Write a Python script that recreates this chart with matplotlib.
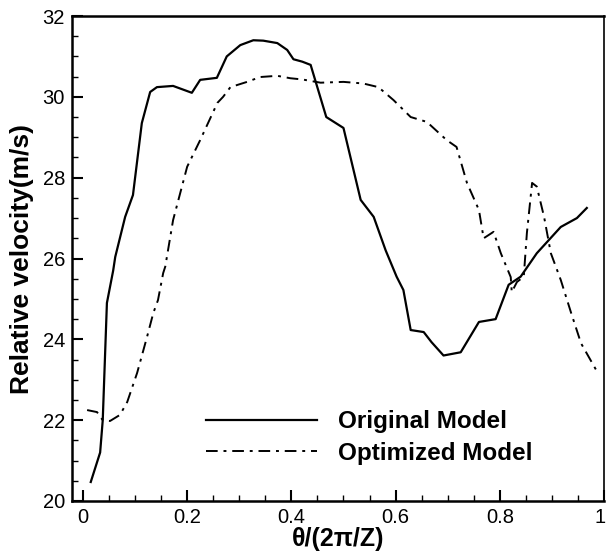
import matplotlib.pyplot as plt
from matplotlib.ticker import MultipleLocator
from matplotlib.transforms import ScaledTranslation

plt.rcParams['font.family'] = ['Liberation Sans', 'DejaVu Sans']

# original blade: theta fraction vs relative velocity
orig_theta = [0.015, 0.033, 0.038, 0.046, 0.058, 0.062, 0.081, 0.096, 0.113, 0.129,
              0.142, 0.173, 0.209, 0.225, 0.257, 0.276, 0.302, 0.327, 0.346, 0.373,
              0.392, 0.404, 0.421, 0.437, 0.467, 0.5, 0.533, 0.558, 0.581, 0.602,
              0.615, 0.629, 0.654, 0.669, 0.692, 0.725, 0.76, 0.792, 0.817, 0.84,
              0.871, 0.917, 0.948, 0.967]
orig_vel = [20.47, 21.2, 22.0, 24.9, 25.7, 26.04, 27.03, 27.57, 29.35, 30.12,
            30.24, 30.27, 30.1, 30.42, 30.47, 31.0, 31.28, 31.4, 31.39, 31.33,
            31.16, 30.93, 30.87, 30.79, 29.5, 29.23, 27.45, 27.03, 26.2, 25.55,
            25.22, 24.23, 24.18, 23.93, 23.6, 23.68, 24.43, 24.5, 25.35, 25.55,
            26.13, 26.78, 27.0, 27.25]

# optimized blade
opt_theta = [0.008, 0.027, 0.038, 0.052, 0.071, 0.085, 0.104, 0.123, 0.135, 0.144,
             0.154, 0.158, 0.173, 0.2, 0.225, 0.258, 0.269, 0.283, 0.315, 0.34,
             0.373, 0.398, 0.421, 0.456, 0.5, 0.538, 0.567, 0.596, 0.629, 0.66,
             0.698, 0.717, 0.737, 0.76, 0.769, 0.788, 0.802, 0.821, 0.823, 0.833,
             0.846, 0.852, 0.862, 0.871, 0.885, 0.898, 0.917, 0.937, 0.956, 0.985]
opt_vel = [22.25, 22.2, 22.0, 21.98, 22.13, 22.45, 23.17, 24.06, 24.65, 24.97,
           25.64, 25.8, 26.95, 28.27, 28.93, 29.85, 30.0, 30.24, 30.37, 30.49,
           30.52, 30.46, 30.43, 30.35, 30.37, 30.33, 30.24, 29.92, 29.5, 29.38,
           28.93, 28.76, 27.87, 27.2, 26.5, 26.66, 26.13, 25.54, 25.17, 25.42,
           25.55, 26.63, 27.87, 27.78, 27.03, 26.13, 25.47, 24.65, 23.9, 23.24]

xtick_pos = [0, 0.2, 0.4, 0.6, 0.8, 1.0]
xtick_lab = ['0', '0.2', '0.4', '0.6', '0.8', '1']

fig = plt.figure(figsize=(6.06, 5.53), dpi=100)
ax = fig.add_axes([72/606, 1-501/553, (604-72)/606, (501-16)/553])

ax.plot(orig_theta, orig_vel, color='black', lw=1.6, label='Original Model')
ax.plot(opt_theta, opt_vel, color='black', lw=1.4, linestyle=(0, (6, 3, 1.5, 3)),
        label='Optimized Model')

ax.set_xlim(-0.021, 1.0)
ax.set_ylim(20, 32)
ax.xaxis.set_minor_locator(MultipleLocator(0.05))
ax.yaxis.set_major_locator(MultipleLocator(2))
ax.yaxis.set_minor_locator(MultipleLocator(0.5))
ax.set_xticks(xtick_pos)
ax.set_xticklabels(xtick_lab)
ax.tick_params(which='major', direction='in', length=8, width=1.5, labelsize=14.5,
               top=False, right=False, pad=5)
ax.tick_params(which='minor', direction='in', length=4, width=1, top=False, right=False)
for side in ['left', 'bottom', 'top']:
    ax.spines[side].set_linewidth(1.8)
ax.spines['right'].set_linewidth(1.2)

# keep the last "1" inside the canvas
last = ax.get_xticklabels()[-1]
last.set_transform(last.get_transform() + ScaledTranslation(-4/100, 0, fig.dpi_scale_trans))

ax.set_xlabel('θ/(2π/Z)', fontsize=18, fontweight='bold', labelpad=0)
ax.set_ylabel('Relative velocity(m/s)', fontsize=19, fontweight='bold', labelpad=6)

leg = ax.legend(loc='lower left', bbox_to_anchor=(0.21, 0.03), frameon=False,
                handlelength=4.6, prop={'weight': 'bold', 'size': 17.5},
                labelspacing=0.35, handletextpad=0.85)

fig.savefig('out.png', dpi=100)
